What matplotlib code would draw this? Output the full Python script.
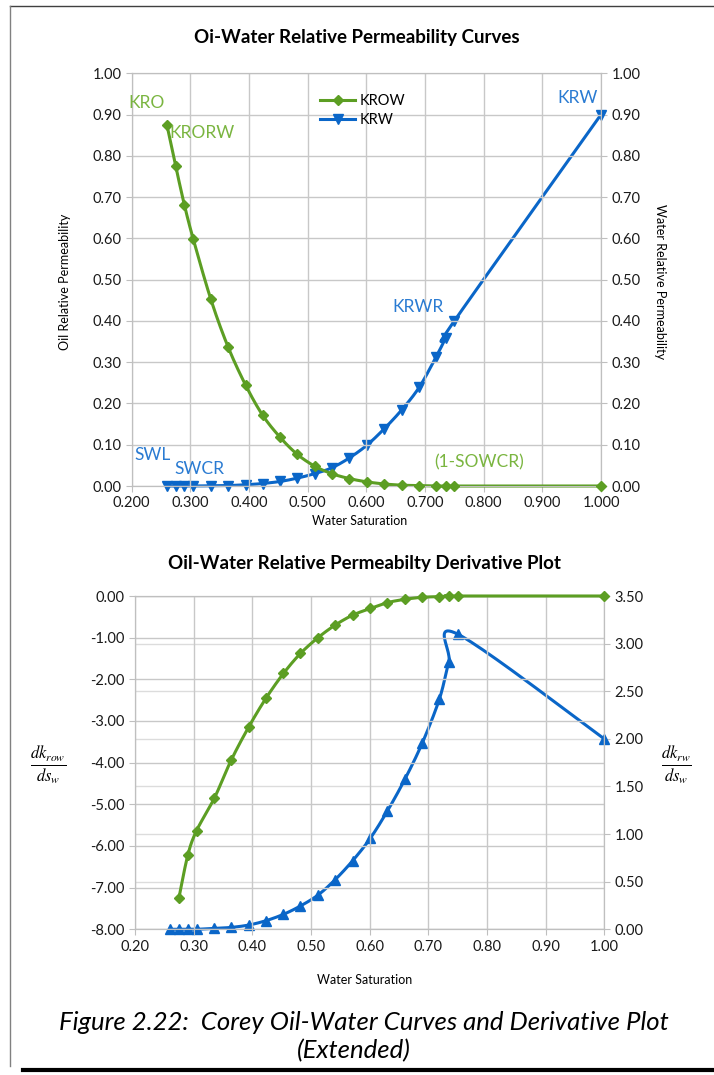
import numpy as np
import matplotlib
matplotlib.use('Agg')
import matplotlib.pyplot as plt
from matplotlib.lines import Line2D
from matplotlib.ticker import FormatStrFormatter, MultipleLocator

plt.rcParams['font.family'] = ['Lato', 'DejaVu Sans']
plt.rcParams['mathtext.fontset'] = 'stix'

# water saturation (shared by both charts)
sw = [0.26, 0.275, 0.29, 0.305, 0.335, 0.364, 0.394, 0.423, 0.453, 0.482, 0.512,
      0.541, 0.571, 0.601, 0.630, 0.660, 0.690, 0.719, 0.735, 0.75, 1.0]

# relative permeability
krow = [0.875, 0.775, 0.680, 0.598, 0.452, 0.338, 0.245, 0.172, 0.118, 0.077, 0.048,
        0.030, 0.018, 0.010, 0.005, 0.002, 0.001, 0.0, 0.0, 0.0, 0.0]
krw = [0.0, 0.0, 0.0, 0.0, 0.0005, 0.001, 0.003, 0.006, 0.011, 0.019, 0.030,
       0.044, 0.068, 0.099, 0.138, 0.184, 0.239, 0.313, 0.358, 0.40, 0.90]

# derivatives (first krow derivative point missing at sw=0.26)
dkrow = [np.nan, -7.24, -6.22, -5.63, -4.86, -3.94, -3.14, -2.46, -1.86, -1.38, -1.00,
         -0.70, -0.46, -0.30, -0.16, -0.08, -0.03, -0.016, -0.008, 0.0, 0.0]
dkrw = [0.0, 0.0, 0.0, 0.0, 0.01, 0.02, 0.045, 0.09, 0.157, 0.245, 0.36,
        0.52, 0.72, 0.955, 1.24, 1.575, 1.96, 2.42, 2.81, 3.10, 2.0]

GREEN = '#5c9e23'
GREEN_TXT = '#7ab540'
BLUE = '#0a66c8'
BLUE_TXT = '#2a7bd2'
GRID = '#c8c8c8'


def smooth(x, y, n=24):
    # excel-like "smoothed line": cubic bezier through the points
    x = np.asarray(x, float)
    y = np.asarray(y, float)
    keep = ~np.isnan(y)
    pts = np.column_stack([x[keep], y[keep]])
    out = []
    t = np.linspace(0, 1, n)[:, None]
    for i in range(len(pts) - 1):
        p0 = pts[i - 1] if i > 0 else pts[i]
        p1, p2 = pts[i], pts[i + 1]
        p3 = pts[i + 2] if i + 2 < len(pts) else pts[i + 1]
        c1 = p1 + (p2 - p0) / 6
        c2 = p2 - (p3 - p1) / 6
        seg = (1 - t) ** 3 * p1 + 3 * (1 - t) ** 2 * t * c1 + 3 * (1 - t) * t ** 2 * c2 + t ** 3 * p2
        out.append(seg if i == 0 else seg[1:])
    s = np.vstack(out)
    return s[:, 0], s[:, 1]


def style(ax):
    for sp in ax.spines.values():
        sp.set_color('#bfbfbf')
    ax.tick_params(colors='#bfbfbf', labelcolor='#1a1a1a', labelsize=10.5, length=4, direction='out')


W, H = 714, 1075
fig = plt.figure(figsize=(W / 100, H / 100), dpi=100)

# ---------- top chart ----------
ax1 = fig.add_axes([131.7 / W, 1 - 486 / H, 469.3 / W, 412.7 / H])
ax1r = ax1.twinx()
ax1.set_xlim(0.2, 1.0)
ax1.set_ylim(0, 1.0)
ax1r.set_ylim(0, 1.0)
ax1.xaxis.set_major_locator(MultipleLocator(0.1))
ax1.yaxis.set_major_locator(MultipleLocator(0.1))
ax1r.yaxis.set_major_locator(MultipleLocator(0.1))
ax1.xaxis.set_major_formatter(FormatStrFormatter('%.3f'))
ax1.yaxis.set_major_formatter(FormatStrFormatter('%.2f'))
ax1r.yaxis.set_major_formatter(FormatStrFormatter('%.2f'))
ax1.grid(True, color=GRID, lw=1)
ax1.set_axisbelow(True)
style(ax1)
style(ax1r)

xs, ys = smooth(sw, krw)
ax1r.plot(xs, ys, color=BLUE, lw=2.2, zorder=2, clip_on=False)
ax1r.plot(sw, krw, ls='none', marker='v', ms=7.5, color=BLUE, zorder=3, clip_on=False)
xs, ys = smooth(sw, krow)
ax1.plot(xs, ys, color=GREEN, lw=2.2, zorder=2, clip_on=False)
ax1.plot(sw, krow, ls='none', marker='D', ms=5.5, color=GREEN, zorder=3, clip_on=False)
ax1r.set_zorder(1)
ax1.set_zorder(2)
ax1.patch.set_visible(False)

handles = [Line2D([], [], color=GREEN, lw=2.2, marker='D', ms=5.5),
           Line2D([], [], color=BLUE, lw=2.2, marker='v', ms=7.5)]
ax1.legend(handles, ['KROW', 'KRW'], loc='upper left', bbox_to_anchor=(0.38, 0.975),
           frameon=False, fontsize=10.5, handlelength=2.4, handletextpad=0.3,
           labelspacing=0.35, borderpad=0.2)

ax1.text(0.226, 0.927, 'KRO', color=GREEN_TXT, fontsize=12.5, ha='center', va='center')
ax1.text(0.264, 0.855, 'KRORW', color=GREEN_TXT, fontsize=12.5, ha='left', va='center')
ax1.text(0.994, 0.94, 'KRW', color=BLUE_TXT, fontsize=12.5, ha='right', va='center')
ax1.text(0.688, 0.433, 'KRWR', color=BLUE_TXT, fontsize=12.5, ha='center', va='center')
ax1.text(0.235, 0.075, 'SWL', color=BLUE_TXT, fontsize=12.5, ha='center', va='center')
ax1.text(0.316, 0.041, 'SWCR', color=BLUE_TXT, fontsize=12.5, ha='center', va='center')
ax1.text(0.792, 0.058, '(1-SOWCR)', color=GREEN_TXT, fontsize=12.5, ha='center', va='center')

fig.text(357 / W, 1 - 37 / H, 'Oi-Water Relative Permeability Curves', ha='center', va='center',
         fontsize=13.5, fontweight='bold')
fig.text(65 / W, 1 - 282 / H, 'Oil Relative Permeability', rotation=90, ha='center', va='center', fontsize=9)
fig.text(660 / W, 1 - 282 / H, 'Water Relative Permeability', rotation=270, ha='center', va='center', fontsize=9)
fig.text(360 / W, 1 - 521 / H, 'Water Saturation', ha='center', va='center', fontsize=9)

# ---------- bottom chart ----------
ax2 = fig.add_axes([135 / W, 1 - 929.3 / H, 469.3 / W, 333.3 / H])
ax2r = ax2.twinx()
ax2.set_xlim(0.2, 1.0)
ax2.set_ylim(-8, 0)
ax2r.set_ylim(0, 3.5)
ax2.xaxis.set_major_locator(MultipleLocator(0.1))
ax2.yaxis.set_major_locator(MultipleLocator(1.0))
ax2r.yaxis.set_major_locator(MultipleLocator(0.5))
ax2.xaxis.set_major_formatter(FormatStrFormatter('%.2f'))
ax2.yaxis.set_major_formatter(plt.FuncFormatter(lambda v, p: '%.2f' % (v + 0.0)))
ax2r.yaxis.set_major_formatter(FormatStrFormatter('%.2f'))
ax2.grid(True, color=GRID, lw=1)
ax2r.grid(True, axis='y', color='#dcdcdc', lw=1)
ax2.set_axisbelow(True)
ax2r.set_axisbelow(True)
style(ax2)
style(ax2r)

xs, ys = smooth(sw, dkrw)
ax2r.plot(xs, ys, color=BLUE, lw=2.2, zorder=2, clip_on=False)
ax2r.plot(sw, dkrw, ls='none', marker='^', ms=7.5, color=BLUE, zorder=3, clip_on=False)
xs, ys = smooth(sw, dkrow)
ax2.plot(xs, ys, color=GREEN, lw=2.2, zorder=4, clip_on=False)
ax2.plot(sw, dkrow, ls='none', marker='D', ms=5.5, color=GREEN, zorder=5, clip_on=False)
ax2.set_zorder(2)
ax2r.set_zorder(1)
ax2.patch.set_visible(False)

fig.text(365 / W, 1 - 563 / H, 'Oil-Water Relative Permeabilty Derivative Plot', ha='center', va='center',
         fontsize=13.5, fontweight='bold')
fig.text(365 / W, 1 - 980 / H, 'Water Saturation', ha='center', va='center', fontsize=9)
fig.text(48 / W, 1 - 765 / H, r'$\frac{dk_{row}}{ds_w}$', ha='center', va='center', fontsize=17)
fig.text(676 / W, 1 - 765 / H, r'$\frac{dk_{rw}}{ds_w}$', ha='center', va='center', fontsize=17)

# caption
fig.text(364 / W, 1 - 1023 / H, 'Figure 2.22:  Corey Oil-Water Curves and Derivative Plot',
         ha='center', va='center', fontsize=18.5, style='italic')
fig.text(354 / W, 1 - 1051 / H, '(Extended)', ha='center', va='center', fontsize=18.5, style='italic')

# page frame
fig.add_artist(Line2D([10 / W, 1.0], [1 - 6 / H, 1 - 6 / H], color='#404040', lw=1))
fig.add_artist(Line2D([10 / W, 10 / W], [1 - 6 / H, 1 - 1066 / H], color='#808080', lw=1))
fig.add_artist(Line2D([23 / W, 1.0], [1 - 1070 / H, 1 - 1070 / H], color='black', lw=3))

fig.savefig('out.png', dpi=100)
